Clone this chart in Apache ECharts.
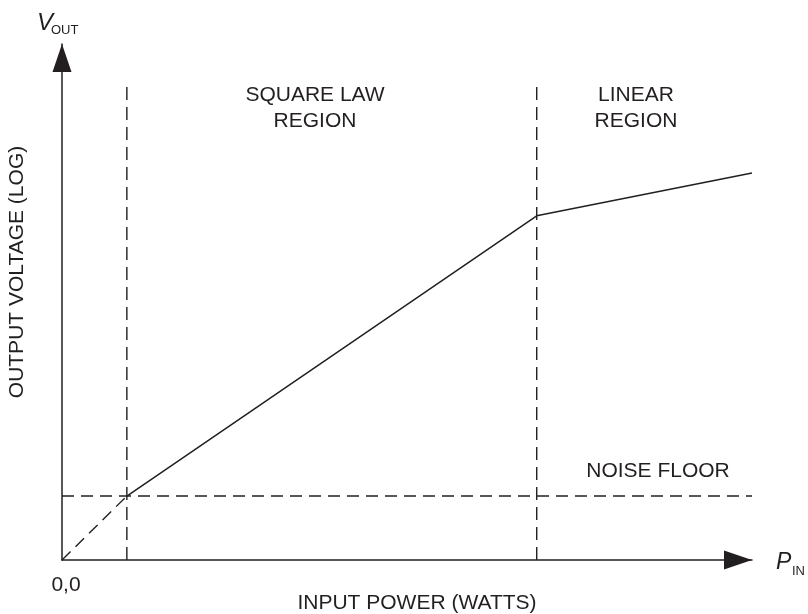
<!DOCTYPE html>
<html>
<head>
<meta charset="utf-8">
<style>
  html, body { margin: 0; padding: 0; background: #ffffff; }
  #chart { width: 808px; height: 614px; }
</style>
<script src="https://cdn.jsdelivr.net/npm/echarts@6/dist/echarts.min.js"></script>
</head>
<body>
<div id="chart"></div>
<script>
// Detector response: output voltage (log) vs input power
const curveX = [0.94, 6.88, 10.0];    // square-law start, knee, end of linear region
const curveY = [1.24, 6.67, 7.5];
const extrapX = [0, 0.94];            // square-law extrapolated below the noise floor
const extrapY = [0, 1.24];
const noiseFloorLevel = 1.24;
const noiseFloorX = [0, 10.0];
const boundaryX = [0.94, 6.88];       // region boundaries
const boundaryTop = 9.19;
const regionLabels = ['SQUARE LAW\nREGION', 'LINEAR\nREGION'];
const noiseLabel = 'NOISE FLOOR';
const xAxisTitle = 'INPUT POWER (WATTS)';
const yAxisTitle = 'OUTPUT VOLTAGE (LOG)';
const originLabel = '0,0';

const ink = '#231f20';
const font = '"Liberation Sans", Arial, Helvetica, sans-serif';
const dash = [12, 7];

const pairs = (xs, ys) => xs.map((x, i) => [x, ys[i]]);

const series = [
  {
    type: 'line', data: pairs(curveX, curveY), symbol: 'none', clip: false,
    lineStyle: { color: ink, width: 1.5 }, z: 3
  },
  {
    type: 'line', data: pairs(extrapX, extrapY), symbol: 'none', clip: false,
    lineStyle: { color: ink, width: 1.4, type: dash }
  },
  {
    type: 'line', data: noiseFloorX.map(x => [x, noiseFloorLevel]), symbol: 'none', clip: false,
    lineStyle: { color: ink, width: 1.4, type: dash }
  }
];
boundaryX.forEach(x => {
  series.push({
    type: 'line', data: [[x, 0], [x, boundaryTop]], symbol: 'none', clip: false,
    lineStyle: { color: ink, width: 1.4, type: [13, 7] }
  });
});

const textStyle = (extra) => Object.assign({
  fill: ink, fontFamily: font, fontSize: 21, textAlign: 'center', textVerticalAlign: 'middle'
}, extra);

// solid arrowheads whose tips sit at the ends of the axes
const axisLine = {
  show: true, symbol: ['none', 'triangle'], symbolSize: [19, 28], symbolOffset: [0, -14],
  lineStyle: { color: ink, width: 1.5 }
};

const chart = echarts.init(document.getElementById('chart'), null, { renderer: 'canvas' });
chart.setOption({
  animation: false,
  backgroundColor: '#ffffff',
  grid: { left: 62, right: 56, top: 44, bottom: 54 },
  xAxis: {
    type: 'value', min: 0, max: 10, axisLine: axisLine,
    axisTick: { show: false }, axisLabel: { show: false }, splitLine: { show: false }
  },
  yAxis: {
    type: 'value', min: 0, max: 10, axisLine: axisLine,
    axisTick: { show: false }, axisLabel: { show: false }, splitLine: { show: false }
  },
  series: series,
  graphic: [
    { type: 'text', style: textStyle({ text: regionLabels[0], x: 315, y: 108, lineHeight: 26 }) },
    { type: 'text', style: textStyle({ text: regionLabels[1], x: 636, y: 108, lineHeight: 26 }) },
    { type: 'text', style: textStyle({ text: noiseLabel, x: 658, y: 471 }) },
    { type: 'text', style: textStyle({ text: xAxisTitle, x: 417, y: 603 }) },
    { type: 'text', rotation: Math.PI / 2, x: 17, y: 272,
      style: textStyle({ text: yAxisTitle, x: 0, y: 0 }) },
    { type: 'text', style: textStyle({ text: originLabel, x: 66, y: 585 }) },
    { type: 'text', style: textStyle({ text: 'V', x: 37, y: 35, fontStyle: 'italic', fontSize: 24,
      textAlign: 'left', textVerticalAlign: 'bottom' }) },
    { type: 'text', style: textStyle({ text: 'OUT', x: 51, y: 37, fontSize: 13,
      textAlign: 'left', textVerticalAlign: 'bottom' }) },
    { type: 'text', style: textStyle({ text: 'P', x: 776, y: 574, fontStyle: 'italic', fontSize: 23,
      textAlign: 'left', textVerticalAlign: 'bottom' }) },
    { type: 'text', style: textStyle({ text: 'IN', x: 792, y: 578, fontSize: 13,
      textAlign: 'left', textVerticalAlign: 'bottom' }) }
  ]
});
</script>
</body>
</html>
